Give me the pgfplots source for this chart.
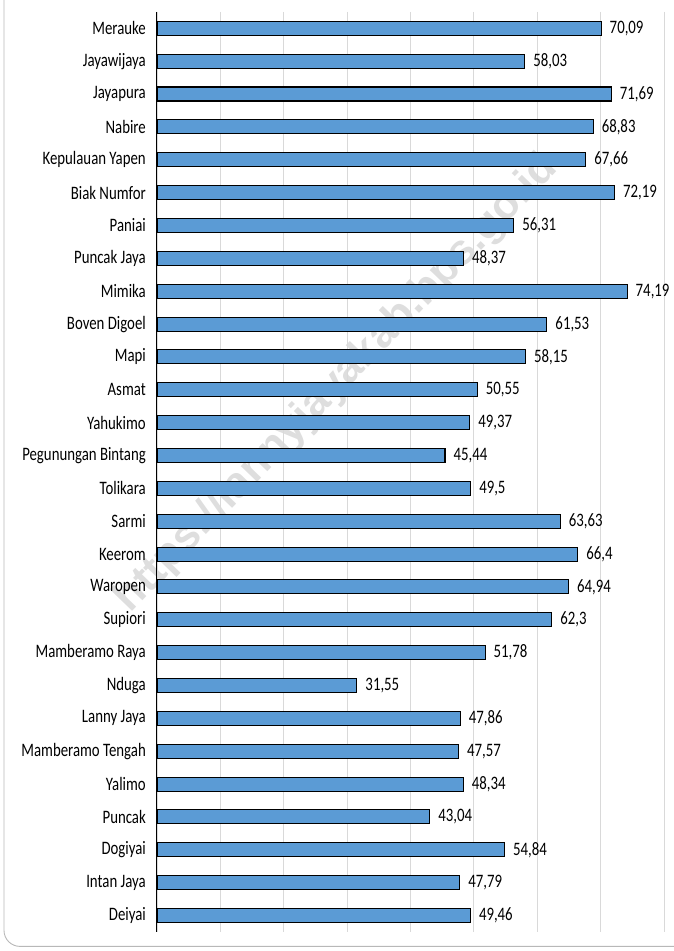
\documentclass[border=0pt]{standalone}
\usepackage{pgfplots}
\pgfplotsset{compat=1.18}
\usepackage{pgfplotstable}
\usepackage{fontspec}
\setmainfont[FakeStretch=0.78]{Carlito}
\newfontfamily\wmfont{Liberation Sans}
\definecolor{barblue}{HTML}{5B9BD5}
\definecolor{gridgray}{HTML}{D9D9D9}
\pgfplotstableread[col sep=semicolon]{
y;x;lab
0;70.09;70,09
1;58.03;58,03
2;71.69;71,69
3;68.83;68,83
4;67.66;67,66
5;72.19;72,19
6;56.31;56,31
7;48.37;48,37
8;74.19;74,19
9;61.53;61,53
10;58.15;58,15
11;50.55;50,55
12;49.37;49,37
13;45.44;45,44
14;49.5;49,5
15;63.63;63,63
16;66.4;66,4
17;64.94;64,94
18;62.3;62,3
19;51.78;51,78
20;31.55;31,55
21;47.86;47,86
22;47.57;47,57
23;48.34;48,34
24;43.04;43,04
25;54.84;54,84
26;47.79;47,79
27;49.46;49,46
}\datatable
\begin{document}
\begin{tikzpicture}
\useasboundingbox (-157pt,-19.1pt) rectangle (516pt,931.9pt);
\draw[black!28, line width=0.9pt, rounded corners=16pt] (-153pt,940pt) -- (-153pt,-14.5pt) -- (530pt,-14.5pt);
\node[rotate=46, text=black!13, font=\wmfont\bfseries\fontsize{43}{50}\selectfont] at (180pt,548pt) {https://lannyjayakab.bps.go.id};
\begin{axis}[
  at={(0pt,0pt)}, anchor=south west,
  width=507pt, height=920pt, scale only axis,
  xbar, bar width=14pt,
  xmin=0, xmax=80,
  ymin=-0.5, ymax=27.5, y dir=reverse,
  xtick={0,10,...,80}, xticklabels={},
  xmajorgrids, grid style={gridgray, line width=0.8pt},
  ytick={0,...,27},
  yticklabels={Merauke,Jayawijaya,Jayapura,Nabire,Kepulauan Yapen,Biak Numfor,Paniai,Puncak Jaya,Mimika,Boven Digoel,Mapi,Asmat,Yahukimo,Pegunungan Bintang,Tolikara,Sarmi,Keerom,Waropen,Supiori,Mamberamo Raya,Nduga,Lanny Jaya,Mamberamo Tengah,Yalimo,Puncak,Dogiyai,Intan Jaya,Deiyai},
  major tick length=0pt,
  axis lines*=left,
  x axis line style={draw=none},
  y axis line style={black, line width=1pt},
  yticklabel style={font=\fontsize{19}{22}\selectfont, anchor=east, inner sep=0pt, xshift=-11pt},
  nodes near coords,
  point meta=explicit symbolic,
  nodes near coords style={font=\fontsize{19}{22}\selectfont, anchor=west, inner sep=0pt, xshift=8pt},
  clip=false,
]
\addplot[fill=barblue, draw=black, line width=1.1pt] table[x=x, y=y, meta=lab] {\datatable};
\end{axis}
\end{tikzpicture}
\end{document}
